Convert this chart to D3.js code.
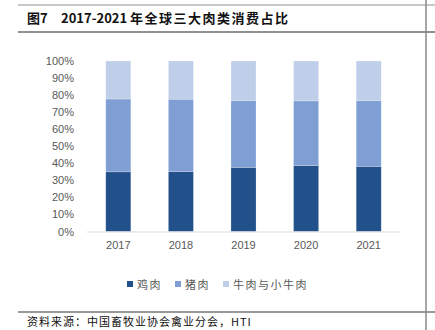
<!DOCTYPE html>
<html><head><meta charset="utf-8">
<script src="https://cdn.jsdelivr.net/npm/d3@7/dist/d3.min.js"></script>
<style>body{margin:0;background:#fff}svg{display:block}</style>
</head><body>
<script>
const years = ["2017","2018","2019","2020","2021"];
const chicken = [35.0, 35.1, 37.6, 38.6, 38.2];
const pork = [42.7, 42.5, 39.2, 38.0, 38.6];
const beef = [22.3, 22.4, 23.2, 23.4, 23.2];
const seriesNames = ["鸡肉","猪肉","牛肉与小牛肉"];
const colors = ["#22508A","#7F9FD4","#BFCFE9"];
const yTicks = [0,10,20,30,40,50,60,70,80,90,100];
const titleParts = ["图7","2017-2021","年全球三大肉类消费占比"];
const source = "资料来源：中国畜牧业协会禽业分会，HTI";

const W=435,H=330;
const svg=d3.select("body").append("svg").attr("width",W).attr("height",H);
const cjk="'Noto Sans CJK SC','Noto Sans',sans-serif";

// frame lines
svg.append("line").attr("x1",18).attr("x2",W).attr("y1",5).attr("y2",5).attr("stroke","#c8c8c8").attr("stroke-width",2);
svg.append("line").attr("x1",18).attr("x2",W).attr("y1",32).attr("y2",32).attr("stroke","#222").attr("stroke-width",1.2);
svg.append("line").attr("x1",18).attr("x2",W).attr("y1",312).attr("y2",312).attr("stroke","#777").attr("stroke-width",1.5);
svg.append("line").attr("x1",426).attr("x2",426).attr("y1",0).attr("y2",H).attr("stroke","#888").attr("stroke-width",1.5);

const tt=svg.append("text").attr("y",23).attr("font-family",cjk).attr("font-weight","bold")
  .attr("font-size",13).attr("fill","#111");
tt.append("tspan").attr("x",27).text(titleParts[0]);
tt.append("tspan").attr("x",61).text(titleParts[1]);
tt.append("tspan").attr("x",130).attr("letter-spacing",1.5).text(titleParts[2]);

const x=d3.scaleBand().domain(years).range([87,400]).paddingInner(0.6).paddingOuter(0.3);
const y=d3.scaleLinear().domain([0,100]).range([231.5,61]);

const data=years.map((yr,i)=>({year:yr,"鸡肉":chicken[i],"猪肉":pork[i],"牛肉与小牛肉":beef[i]}));
const stack=d3.stack().keys(seriesNames)(data);

svg.append("g").selectAll("g").data(stack).join("g").attr("fill",(d,i)=>colors[i])
 .selectAll("rect").data(d=>d).join("rect")
 .attr("x",d=>x(d.data.year)).attr("width",x.bandwidth())
 .attr("y",d=>y(Math.min(d[1],100))).attr("height",d=>y(d[0])-y(Math.min(d[1],100)))
 .attr("stroke","#fff").attr("stroke-opacity",0.35).attr("stroke-width",0.6);

// baseline
svg.append("line").attr("x1",87).attr("x2",400).attr("y1",y(0)+0.5).attr("y2",y(0)+0.5).attr("stroke","#d9d9d9").attr("stroke-width",1);

const ya=d3.axisLeft(y).tickValues(yTicks).tickFormat(d=>d+"%").tickSize(0).tickPadding(0);
const gy=svg.append("g").attr("transform","translate(74,0)").call(ya);
gy.select(".domain").remove();
gy.selectAll("text").attr("font-family","'Liberation Sans',Arial,sans-serif").attr("font-size",11).attr("fill","#595959");

const xa=d3.axisBottom(x).tickSize(0).tickPadding(10);
const gx=svg.append("g").attr("transform",`translate(0,${y(0)})`).call(xa);
gx.select(".domain").remove();
gx.selectAll("text").attr("font-family","'Liberation Sans',Arial,sans-serif").attr("font-size",11).attr("fill","#595959");

// legend
const legX=[127,175,223];
const lg=svg.append("g");
seriesNames.forEach((n,i)=>{
  lg.append("rect").attr("x",legX[i]).attr("y",281).attr("width",6).attr("height",6).attr("fill",colors[i]);
  lg.append("text").attr("x",legX[i]+10).attr("y",288.5).attr("font-family",cjk).attr("font-size",11)
    .attr("fill","#595959").attr("letter-spacing",1.5).text(n);
});

svg.append("text").attr("x",27).attr("y",326).attr("font-family",cjk).attr("font-size",11)
  .attr("fill","#111").attr("letter-spacing",1).text(source);
</script>
</body></html>
